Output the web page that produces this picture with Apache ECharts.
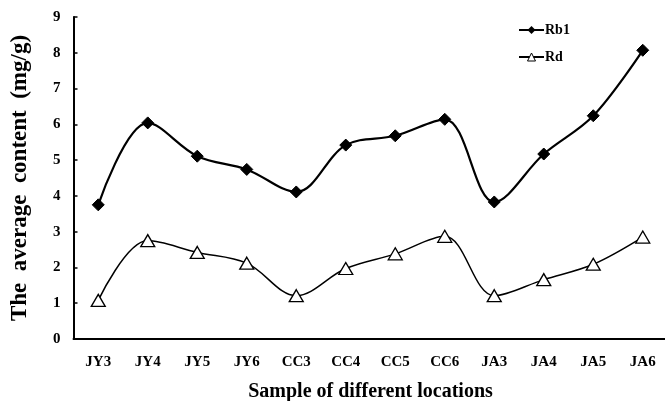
<!DOCTYPE html>
<html>
<head>
<meta charset="utf-8">
<script src="https://cdn.jsdelivr.net/npm/echarts@6/dist/echarts.min.js"></script>
<style>html,body{margin:0;padding:0;background:#fff;}#c{width:665px;height:401px;}</style>
</head>
<body>
<div id="c"></div>
<script>
var categories = ['JY3','JY4','JY5','JY6','CC3','CC4','CC5','CC6','JA3','JA4','JA5','JA6'];
var rb1 = [3.75, 6.04, 5.11, 4.74, 4.11, 5.42, 5.68, 6.14, 3.83, 5.17, 6.24, 8.07];
var rd = [1.08, 2.75, 2.42, 2.12, 1.21, 1.97, 2.38, 2.87, 1.21, 1.66, 2.09, 2.85];
var yTicks = [0,1,2,3,4,5,6,7,8,9];

var font = '"Liberation Serif", "Times New Roman", serif';
var chart = echarts.init(document.getElementById('c'));
chart.setOption({
  backgroundColor: '#fff',
  animation: false,
  textStyle: {fontFamily: font},
  grid: {left: 73.5, top: 17, width: 594, height: 322, containLabel: false, outerBoundsMode: 'none'},
  legend: {
    orient: 'vertical', left: 518, top: 23, itemGap: 13, padding: 0,
    itemWidth: 25, itemHeight: 10,
    textStyle: {fontFamily: font, fontWeight: 'bold', fontSize: 14, color: '#000', padding: [0,0,0,-4]},
    data: [
      {name: 'Rb1', itemStyle: {color: '#000'}},
      {name: 'Rd', itemStyle: {color: '#fff', borderColor: '#000', borderWidth: 1}}
    ]
  },
  xAxis: {
    type: 'category', data: categories, boundaryGap: true,
    name: 'Sample of different locations', nameLocation: 'middle', nameGap: 43,
    nameTextStyle: {fontFamily: font, fontWeight: 'bold', fontSize: 20, color: '#000'},
    axisLine: {lineStyle: {color: '#000', width: 2}},
    axisTick: {inside: true, length: 4, lineStyle: {color: '#000', width: 1.5}},
    axisLabel: {fontFamily: font, fontWeight: 'bold', fontSize: 15, color: '#000', margin: 16},
    splitLine: {show: false}
  },
  yAxis: {
    type: 'value', min: yTicks[0], max: yTicks[yTicks.length-1], interval: 1,
    name: 'The  average  content  (mg/g)', nameLocation: 'middle', nameGap: 42,
    nameTextStyle: {fontFamily: font, fontWeight: 'bold', fontSize: 23, color: '#000'},
    axisLine: {show: true, lineStyle: {color: '#000', width: 2}},
    axisTick: {show: true, inside: true, length: 4, lineStyle: {color: '#000', width: 1.5}},
    axisLabel: {fontFamily: font, fontWeight: 'bold', fontSize: 15, color: '#000', margin: 13},
    splitLine: {show: false}
  },
  series: [
    {
      name: 'Rb1', type: 'line', data: rb1, smooth: 0.35,
      symbol: 'diamond', symbolSize: 12,
      lineStyle: {color: '#000', width: 2.2},
      itemStyle: {color: '#000', borderColor: '#000'}
    },
    {
      name: 'Rd', type: 'line', data: rd, smooth: 0.35,
      symbol: 'triangle', symbolSize: [14, 12],
      lineStyle: {color: '#000', width: 1.5},
      itemStyle: {color: '#fff', borderColor: '#000', borderWidth: 1.3}
    }
  ]
});
</script>
</body>
</html>
